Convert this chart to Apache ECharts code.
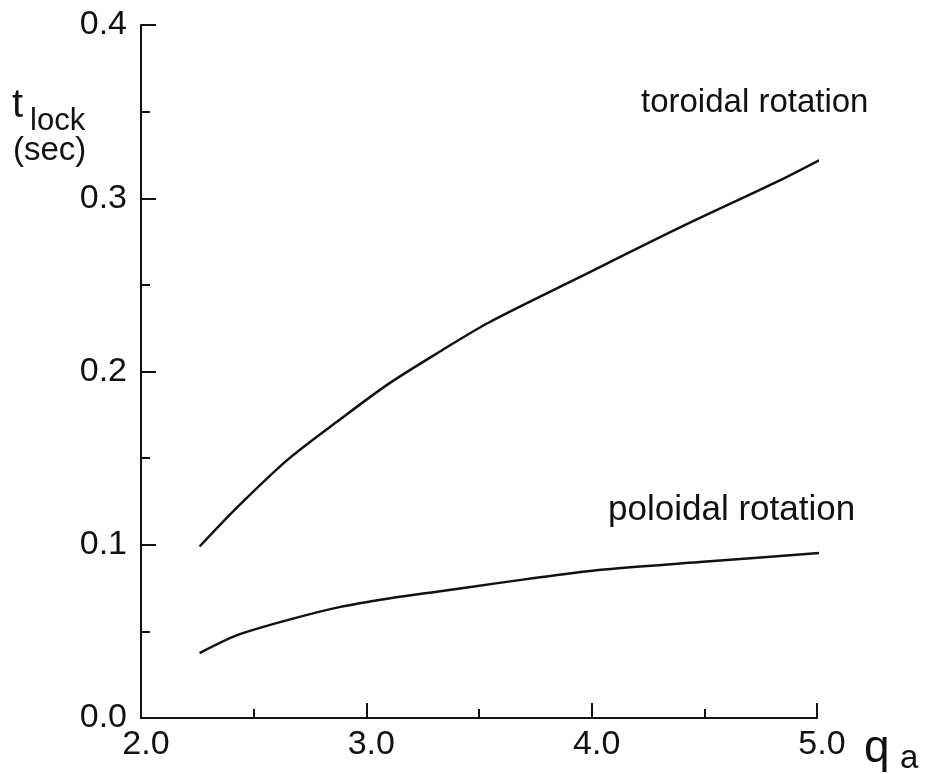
<!DOCTYPE html>
<html>
<head>
<meta charset="utf-8">
<script src="https://cdn.jsdelivr.net/npm/echarts@6/dist/echarts.min.js"></script>
<style>
  html, body { margin: 0; padding: 0; background: #fff; }
  #chart-container { width: 940px; height: 774px; }
</style>
</head>
<body>
<div id="chart-container"></div>
<script>
// values
var toroidalQ = [2.26, 2.43, 2.65, 2.88, 3.10, 3.32, 3.54, 3.94, 4.39, 4.83, 5.04];
var toroidalT = [0.099, 0.122, 0.149, 0.172, 0.193, 0.211, 0.228, 0.254, 0.283, 0.310, 0.324];
var poloidalQ = [2.26, 2.43, 2.65, 2.88, 3.10, 3.32, 3.59, 4.03, 4.48, 5.07];
var poloidalT = [0.0375, 0.048, 0.0565, 0.064, 0.069, 0.073, 0.078, 0.0854, 0.090, 0.0958];

var xTicks = [2.0, 3.0, 4.0, 5.0];
var yTicks = [0.0, 0.1, 0.2, 0.3, 0.4];

function pairs(xs, ys) {
    return xs.map(function (x, i) { return [x, ys[i]]; });
}

var dom = document.getElementById('chart-container');
var myChart = echarts.init(dom, null, { renderer: 'canvas' });

var ink = '#111';
var font = '"Liberation Sans", Arial, sans-serif';

var option = {
    backgroundColor: '#fff',
    animation: false,
    grid: { left: 141, right: 123, top: 25, bottom: 56 },
    xAxis: {
        type: 'value',
        min: xTicks[0],
        max: xTicks[xTicks.length - 1],
        interval: 1,
        axisLine: { lineStyle: { color: ink, width: 2 } },
        axisTick: { inside: true, length: 15, lineStyle: { color: ink, width: 2 } },
        minorTick: { show: true, splitNumber: 2, length: 9, lineStyle: { color: ink, width: 2 } },
        splitLine: { show: false },
        axisLabel: {
            color: ink, fontSize: 34, fontFamily: font, margin: 10,
            padding: [0, 0, 0, 10],
            formatter: function (v) { return v.toFixed(1); }
        }
    },
    yAxis: {
        type: 'value',
        min: yTicks[0],
        max: yTicks[yTicks.length - 1],
        interval: 0.1,
        axisLine: { show: true, lineStyle: { color: ink, width: 2 } },
        axisTick: { show: true, inside: true, length: 15, lineStyle: { color: ink, width: 2 } },
        minorTick: { show: true, splitNumber: 2, length: 9, lineStyle: { color: ink, width: 2 } },
        splitLine: { show: false },
        axisLabel: {
            color: ink, fontSize: 34, fontFamily: font, margin: 14,
            formatter: function (v) { return v.toFixed(1); }
        }
    },
    series: [
        {
            name: 'toroidal rotation',
            type: 'line',
            data: pairs(toroidalQ, toroidalT),
            smooth: 0.3,
            showSymbol: false,
            clip: false,
            lineStyle: { color: ink, width: 2.5 }
        },
        {
            name: 'poloidal rotation',
            type: 'line',
            data: pairs(poloidalQ, poloidalT),
            smooth: 0.3,
            showSymbol: false,
            clip: false,
            lineStyle: { color: ink, width: 2.5 }
        }
    ],
    graphic: [
        { type: 'text', left: 641, top: 86, style: { text: 'toroidal rotation', font: '33px ' + font, fill: ink } },
        { type: 'text', left: 608, top: 493, style: { text: 'poloidal rotation', font: '35px ' + font, fill: ink } },
        { type: 'text', left: 12, top: 86, style: { text: 't', font: '40px ' + font, fill: ink } },
        { type: 'text', left: 30, top: 106, style: { text: 'lock', font: '31px ' + font, fill: ink } },
        { type: 'text', left: 13, top: 134, style: { text: '(sec)', font: '33px ' + font, fill: ink } },
        { type: 'text', left: 864, top: 726, style: { text: 'q', font: '46px ' + font, fill: ink } },
        { type: 'text', left: 900, top: 742, style: { text: 'a', font: '33px ' + font, fill: ink } }
    ]
};

if (option && typeof option === 'object') {
    myChart.setOption(option);
}

window.addEventListener('resize', myChart.resize);
</script>
</body>
</html>
